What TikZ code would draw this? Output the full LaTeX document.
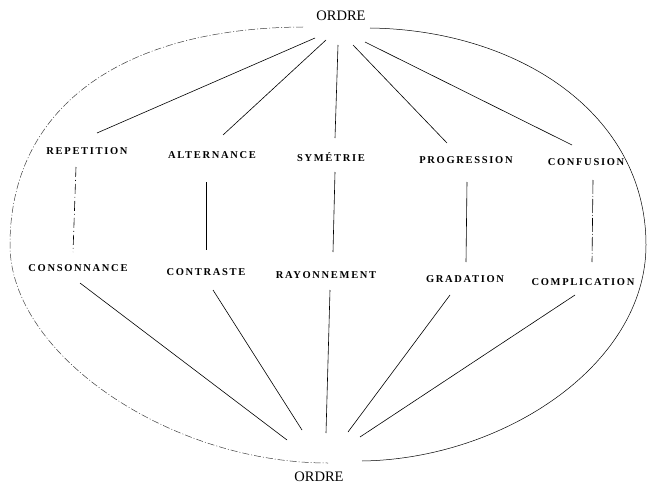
\documentclass[tikz,border=0pt]{standalone}
\usepackage{fontspec}
\setmainfont{Liberation Serif}
\newfontfamily\lblfont[LetterSpace=16]{Liberation Serif}
\begin{document}
\begin{tikzpicture}[x=1pt,y=-1pt,
  lbl/.style={inner sep=1pt,font=\lblfont\bfseries\fontsize{10.5}{11}\selectfont},
  ord/.style={inner sep=1pt,font=\fontsize{14.5}{15}\selectfont},
  ln/.style={line width=0.6pt,black},
  rim/.style={line width=0.5pt,black},
  faint/.style={line width=0.5pt,black!75,dash pattern=on 7pt off 2pt on 1pt off 2pt}]
\useasboundingbox (0,0) rectangle (648,487);
% nodes
\node[ord] (ordreT) at (341,16) {ORDRE};
\node[ord] (ordreB) at (319,477) {ORDRE};
\node[lbl] (rep)  at (87,151) {REPETITION};
\node[lbl] (alt)  at (212,155) {ALTERNANCE};
\node[lbl] (sym)  at (331,157) {SYMÉTRIE};
\node[lbl] (prog) at (466,160) {PROGRESSION};
\node[lbl] (conf) at (586,162) {CONFUSION};
\node[lbl] (cons) at (78,268) {CONSONNANCE};
\node[lbl] (contr) at (206,272) {CONTRASTE};
\node[lbl] (ray)  at (326,275) {RAYONNEMENT};
\node[lbl] (grad) at (465,279) {GRADATION};
\node[lbl] (compl) at (583,282) {COMPLICATION};
% outer oval: left half broken, right half solid
\draw[faint] (303,27) .. controls (118,28) and (10,110) .. (10,245)
  .. controls (10,354) and (169,463) .. (328,463);
\draw[rim] (370,28) .. controls (519,30) and (646,114) .. (646,245)
  .. controls (646,365) and (503,459) .. (362,461);
% top fan
\draw[ln] ([shift={(-26,22)}]ordreT.center) -- ([shift={(10,-18)}]rep.center);
\draw[ln] ([shift={(-15,24)}]ordreT.center) -- ([shift={(11,-20)}]alt.center);
\draw[ln] ([shift={(-3,29)}]ordreT.center) -- ([shift={(4,-19)}]sym.center);
\draw[ln] ([shift={(12,29)}]ordreT.center) -- ([shift={(-19,-17)}]prog.center);
\draw[ln] ([shift={(24,26)}]ordreT.center) -- ([shift={(-14,-17)}]conf.center);
% verticals
\draw[ln,dash pattern=on 10pt off 3pt on 1pt off 3pt] ([shift={(-11,16)}]rep.center) -- ([shift={(-5,-16)}]cons.center);
\draw[ln] ([shift={(-6,27)}]alt.center) -- ([shift={(0,-22)}]contr.center);
\draw[ln] ([shift={(4,15)}]sym.center) -- ([shift={(7,-23)}]ray.center);
\draw[ln] ([shift={(1,22)}]prog.center) -- ([shift={(1,-17)}]grad.center);
\draw[ln,dash pattern=on 14pt off 2pt on 1pt off 2pt] ([shift={(7,18)}]conf.center) -- ([shift={(9,-20)}]compl.center);
% bottom fan
\draw[ln] ([shift={(2,15)}]cons.center) -- ([shift={(-32,-37)}]ordreB.center);
\draw[ln] ([shift={(7,18)}]contr.center) -- ([shift={(-17,-47)}]ordreB.center);
\draw[ln] ([shift={(4,15)}]ray.center) -- ([shift={(7,-44)}]ordreB.center);
\draw[ln] ([shift={(-15,16)}]grad.center) -- ([shift={(29,-45)}]ordreB.center);
\draw[ln] ([shift={(-8,13)}]compl.center) -- ([shift={(41,-40)}]ordreB.center);
\end{tikzpicture}
\end{document}
